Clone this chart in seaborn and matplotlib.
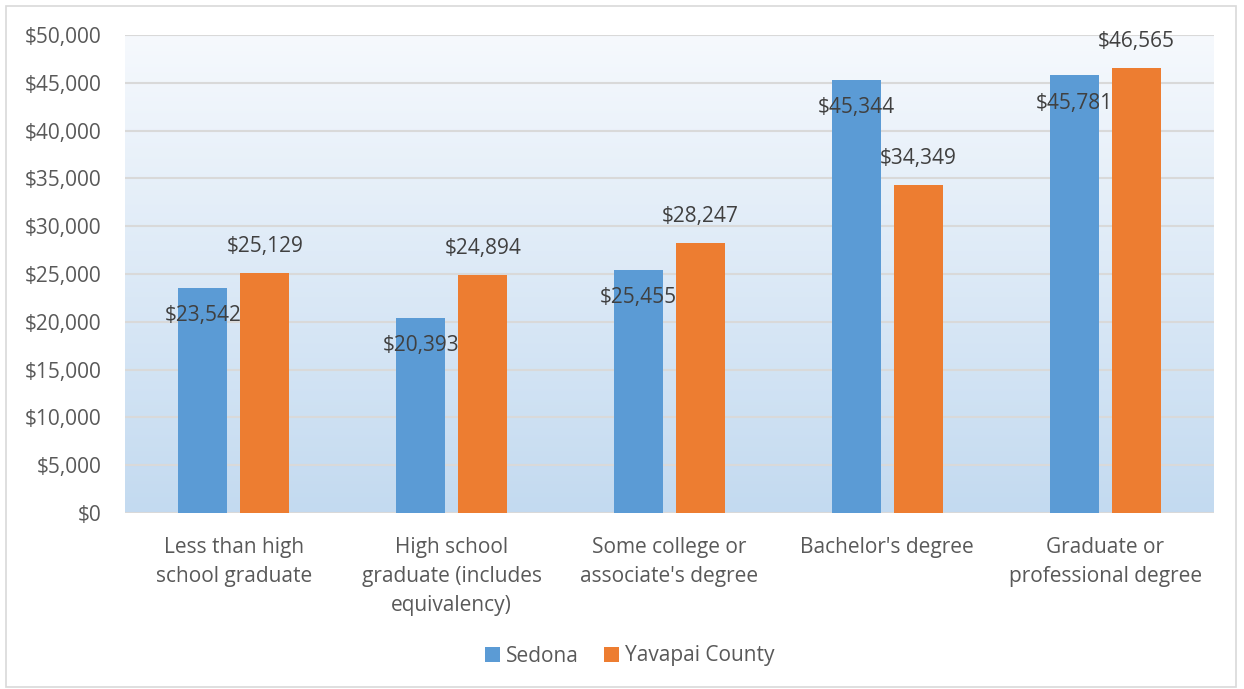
import matplotlib
matplotlib.use("Agg")
import matplotlib.pyplot as plt
import numpy as np
import pandas as pd
import seaborn as sns
from matplotlib.colors import LinearSegmentedColormap
from matplotlib.patches import Rectangle


categories = [
    "Less than high\nschool graduate",
    "High school\ngraduate (includes\nequivalency)",
    "Some college or\nassociate's degree",
    "Bachelor's degree",
    "Graduate or\nprofessional degree",
]
sedona = [23542, 20393, 25455, 45344, 45781]
yavapai = [25129, 24894, 28247, 34349, 46565]
series_names = ["Sedona", "Yavapai County"]
y_ticks = [0, 5000, 10000, 15000, 20000, 25000, 30000, 35000, 40000, 45000, 50000]

colors = ["#5b9bd5", "#ed7d31"]

df = pd.DataFrame({
    "category": categories * 2,
    "series": [series_names[0]] * len(categories) + [series_names[1]] * len(categories),
    "value": sedona + yavapai,
})

sns.set_theme(style="white")
plt.rcParams["font.family"] = ["Open Sans", "DejaVu Sans"]
FS = 15

fig = plt.figure(figsize=(12.44, 6.89), dpi=100)
ax = fig.add_axes([125 / 1244, 1 - 513 / 689, (1214 - 125) / 1244, (513 - 35) / 689])

# gradient plot background
grad = LinearSegmentedColormap.from_list("bg", ["#c3daf0", "#f6f9fd"])
ax.imshow(np.linspace(0, 1, 256).reshape(-1, 1), cmap=grad, origin="lower",
          extent=[0, 1, 0, 1], transform=ax.transAxes, aspect="auto", zorder=0)

sns.barplot(data=df, x="category", y="value", hue="series", palette=colors,
            width=0.57, gap=0.21, saturation=1, linewidth=0, ax=ax, zorder=3, legend=True)

ax.set_ylim(0, 50000)
ax.set_xlim(-0.5, len(categories) - 0.5)
ax.set_yticks(y_ticks)
ax.set_yticklabels([f"${v:,.0f}" for v in y_ticks], fontsize=FS, color="#595959")
ax.tick_params(axis="x", labelsize=FS, colors="#595959", length=0, pad=17)
ax.tick_params(axis="y", length=0, pad=17)
for t in ax.get_xticklabels():
    t.set_linespacing(1.5)
ax.set_xlabel("")
ax.set_ylabel("")
for y in y_ticks:
    ax.axhline(y, color="#d9d9d9", linewidth=1.5, zorder=1)
for s in ax.spines.values():
    s.set_visible(False)

# data labels
for container, name in zip(ax.containers, series_names):
    for bar in container:
        h = bar.get_height()
        x = bar.get_x() + bar.get_width() / 2
        if name == "Sedona":
            ax.annotate(f"${h:,.0f}", (x, h), xytext=(0, -20), textcoords="offset points",
                        ha="center", va="center", fontsize=FS, color="#404040", zorder=5)
        else:
            ax.annotate(f"${h:,.0f}", (x, h), xytext=(0, 19), textcoords="offset points",
                        ha="center", va="center", fontsize=FS, color="#404040", zorder=5)

leg = ax.legend(loc="center", bbox_to_anchor=(630 / 1244, 1 - 656 / 689),
                bbox_transform=fig.transFigure, ncol=2, frameon=False,
                fontsize=FS, handlelength=0.7, handleheight=0.7, handletextpad=0.3,
                columnspacing=1.2)
for t in leg.get_texts():
    t.set_color("#595959")

fig.patches.append(Rectangle((6 / 1244, 2 / 689), 1230 / 1244, 681 / 689, transform=fig.transFigure,
                             fill=False, edgecolor="#d9d9d9", linewidth=1.2))

fig.savefig("out.png", dpi=100, facecolor="white")
